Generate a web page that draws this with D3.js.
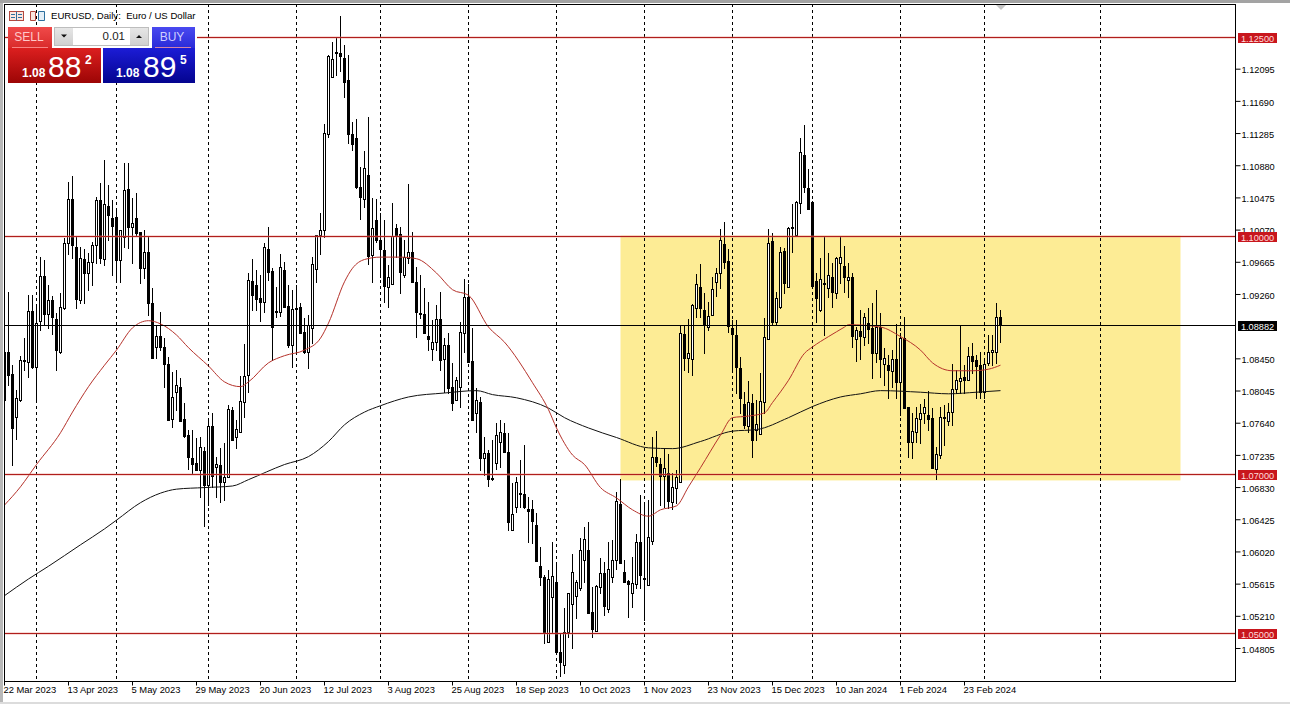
<!DOCTYPE html>
<html>
<head>
<meta charset="utf-8">
<title>EURUSD, Daily</title>
<script src="https://cdn.jsdelivr.net/npm/d3@7"></script>
<style>
  html, body { margin: 0; padding: 0; background: #fff; overflow: hidden; }
  svg { display: block; }
  text { font-family: "Liberation Sans", Arial, sans-serif; }
</style>
</head>
<body>
<div id="chart"></div>
<script>
// EURUSD daily candles, prices in 1/10000 (10919 = 1.0919), one entry per bar
const opens = [
  10854,10854,10826,10772,10793,10844,10841,10905,10835,10893,10949,10901,10919,10895,10854,10909,10991,11046,10986,10919,10971,10953,10967,10988,11045,
  10971,11037,11022,11024,10970,10998,11059,11011,11022,11005,10959,10979,10915,10860,10874,10860,10839,10769,10803,10810,10769,10749,10720,10714,10705,
  10729,10686,10761,10709,10711,10690,10696,10781,10747,10753,10791,10825,10943,10938,10922,10917,10983,10956,10905,10904,10957,10912,10862,10909,10910,
  10879,10854,10884,10958,11001,11007,11128,11200,11231,11230,11224,11196,11128,11123,11061,11046,11076,10976,11020,10995,10982,10935,10939,11010,11002,
  10951,10972,10979,10942,10903,10902,10874,10857,10866,10895,10845,10862,10810,10793,10810,10878,10923,10842,10777,10791,10720,10727,10695,10714,10740,
  10752,10728,10630,10659,10676,10675,10656,10656,10636,10584,10571,10489,10545,10564,10476,10460,10501,10537,10547,10557,10592,10605,10526,10503,10558,
  10576,10530,10571,10592,10662,10577,10566,10550,10562,10615,10569,10561,10616,10722,10713,10698,10701,10665,10683,10690,10876,10846,10845,10909,10935,
  10907,10885,10900,10942,10953,10990,10968,10884,10875,10833,10788,10761,10789,10755,10750,10791,10870,10993,10891,10910,10981,10935,11010,11001,11041,
  11102,11060,11042,10943,10907,10941,10934,10948,10928,10966,10962,10944,10948,10870,10880,10873,10890,10884,10852,10885,10839,10837,10830,10845,10816,
  10871,10784,10740,10753,10769,10777,10774,10771,10706,10724,10772,10767,10778,10807,10817,10822,10818,10849,10844,10837,10803,10840,10854,10854,10898
];
const highs = [
  10863,10929,10837,10806,10849,10871,10925,10925,10910,10973,10970,10938,10924,10903,10928,10997,11068,11075,10998,10986,10983,10978,10992,11049,11066,
  11095,11064,11045,11035,11007,11092,11092,11047,11054,11005,11007,10998,10934,10888,10904,10871,10847,10828,10831,10821,10789,10755,10755,10745,10747,
  10734,10771,10777,10722,10733,10739,10787,10785,10768,10823,10864,10953,10971,10957,10951,10991,11011,10959,10935,10977,10967,10938,10932,10938,10915,
  10897,10900,10973,11001,11029,11141,11227,11244,11250,11277,11240,11227,11143,11147,11086,11107,11149,11047,11046,11029,11020,10963,11041,11015,11011,
  10995,11065,11005,10961,10951,10934,10917,10894,10913,10929,10871,10878,10840,10822,10891,10946,10939,10884,10808,10797,10747,10730,10743,10764,10768,
  10764,10752,10689,10696,10718,10737,10671,10667,10651,10608,10573,10579,10615,10589,10500,10531,10550,10600,10567,10620,10634,10640,10558,10561,10594,
  10589,10615,10617,10678,10694,10592,10567,10596,10625,10674,10664,10667,10747,10754,10720,10733,10725,10701,10705,10888,10888,10895,10914,10952,10964,
  10928,10917,10948,10959,11008,11017,10983,10894,10894,10847,10803,10817,10801,10793,10827,10896,11008,11003,10929,10986,10985,11011,11040,11044,11123,
  11139,11084,11044,10953,10972,10998,10978,10966,10973,10998,10987,10966,10953,10885,10907,10903,10909,10915,10932,10903,10859,10850,10856,10889,10878,
  10898,10785,10777,10785,10788,10795,10805,10783,10734,10785,10787,10789,10839,10831,10888,10837,10860,10865,10850,10854,10844,10875,10875,10915,10907
];
const lows = [
  10766,10812,10712,10744,10792,10831,10822,10834,10793,10881,10888,10884,10876,10831,10852,10908,10977,10972,10909,10915,10915,10932,10938,10966,10966,
  10963,10995,10951,10942,10942,10986,10985,10966,11001,10941,10947,10900,10846,10846,10856,10810,10768,10759,10781,10767,10747,10706,10701,10705,10671,
  10635,10661,10684,10671,10665,10667,10696,10743,10733,10753,10772,10803,10907,10907,10892,10904,10944,10844,10898,10899,10910,10860,10835,10852,10878,
  10852,10834,10865,10942,10977,10998,11124,11200,11202,11207,11175,11117,11108,11060,11021,11036,10964,10942,10992,10948,10917,10910,10939,10973,10928,
  10948,10966,10942,10873,10897,10878,10856,10844,10856,10831,10803,10802,10781,10793,10785,10854,10841,10768,10753,10705,10699,10685,10693,10706,10709,
  10728,10630,10630,10652,10659,10657,10615,10613,10591,10561,10488,10489,10500,10475,10446,10450,10495,10481,10519,10554,10564,10525,10495,10503,10550,
  10523,10527,10564,10581,10588,10564,10520,10533,10557,10557,10516,10561,10612,10710,10661,10659,10657,10656,10664,10690,10831,10828,10825,10898,10898,
  10852,10881,10900,10924,10934,10959,10879,10828,10802,10777,10758,10753,10722,10743,10750,10777,10870,10889,10889,10909,10928,10935,10980,11001,11029,
  11055,11034,10937,10891,10905,10875,10923,10910,10922,10941,10929,10923,10860,10842,10845,10862,10865,10821,10841,10822,10812,10796,10810,10796,10774,
  10783,10722,10720,10740,10739,10764,10755,10708,10694,10720,10737,10762,10762,10802,10802,10802,10818,10827,10796,10796,10796,10837,10837,10840,10866
];
const closes = [
  10793,10825,10758,10796,10844,10842,10905,10835,10890,10949,10901,10919,10898,10856,10910,10991,11046,10988,10920,10972,10953,10967,10988,11045,10972,
  11040,11026,11012,10970,11007,11058,11011,11016,11003,10959,10979,10915,10846,10874,10860,10839,10768,10797,10812,10767,10748,10722,10713,10705,10734,
  10686,10761,10698,10713,10690,10696,10782,10743,10757,10792,10823,10944,10925,10920,10917,10986,10954,10885,10904,10961,10910,10862,10908,10908,10878,
  10854,10888,10964,11001,11007,11129,11226,11222,11230,11226,11193,11128,11115,11061,11049,11085,10974,11010,10995,10983,10937,10948,11000,11001,10954,
  10973,10979,10942,10904,10902,10878,10870,10866,10895,10844,10862,10808,10789,10818,10879,10923,10841,10768,10793,10720,10727,10694,10694,10749,10753,
  10728,10640,10650,10690,10675,10659,10654,10641,10591,10571,10500,10568,10572,10476,10464,10501,10550,10577,10564,10605,10618,10525,10505,10559,10576,
  10534,10581,10592,10666,10588,10564,10562,10563,10615,10573,10568,10621,10722,10715,10698,10708,10666,10684,10696,10878,10846,10852,10913,10939,10909,
  10888,10899,10933,10953,10995,10967,10886,10876,10835,10796,10762,10791,10743,10763,10792,10873,10991,10891,10922,10979,10941,11010,11011,11042,11105,
  11061,11034,10937,10922,10946,10939,10951,10929,10972,10973,10948,10948,10874,10881,10874,10898,10883,10852,10885,10845,10846,10831,10845,10816,10871,
  10783,10740,10754,10771,10777,10784,10769,10708,10725,10772,10771,10778,10807,10818,10821,10818,10849,10842,10836,10803,10839,10854,10856,10898,10888
];

// Moving averages at these bars
const redMaBars = [0,4,8,14,17,21,25,28,32,36,39,43,46,51,55,59,61,66,70,75,79,81,85,87,90,94,99,103,108,112,116,121,125,132,136,138,142,145,149,153,157,161,164,168,171,174,179,182,186,190,192,196,200,202,206,210,211,219,224,229,232,237,242,246,249];
const redMa = [10661,10684,10712,10752,10778,10810,10837,10856,10884,10893,10889,10875,10859,10836,10816,10810,10816,10840,10849,10856,10871,10890,10942,10959,10970,10973,10973,10971,10953,10932,10925,10885,10866,10815,10781,10758,10724,10712,10683,10670,10655,10647,10655,10660,10684,10708,10749,10771,10773,10777,10790,10818,10852,10860,10873,10885,10888,10885,10873,10856,10840,10830,10830,10832,10837];
const blackMaBars = [0,6,11,19,25,28,34,39,43,50,57,61,70,76,81,85,90,94,101,110,118,122,128,136,140,146,153,161,167,174,182,188,196,202,209,214,219,229,236,243,249];
const blackMa = [10547,10568,10584,10611,10631,10642,10664,10676,10681,10683,10685,10693,10712,10722,10741,10762,10778,10786,10797,10802,10805,10800,10796,10783,10771,10758,10746,10733,10732,10741,10754,10756,10771,10785,10797,10801,10805,10803,10801,10803,10805];

// Horizontal levels and the current bid
const levels = [11250, 11000, 10700, 10500];
const levelLabels = ["1.12500", "1.10000", "1.07000", "1.05000"];
const bid = 10888.2;
const bidLabel = "1.08882";

// Yellow range box
const boxBars = [154, 294];
const boxPrices = [11000, 10692];

// Tick labels
const priceTicks = [11209.5,11169,11128.5,11088,11047.5,11007,10966.5,10926,10845,10804.5,10764,10723.5,10683,10642.5,10602,10561.5,10521,10480.5];
const dateTickBars = [0,16,32,48,64,80,96,112,128,144,160,176,192,208,224,240];
const dateLabels = ["22 Mar 2023","13 Apr 2023","5 May 2023","29 May 2023","20 Jun 2023","12 Jul 2023","3 Aug 2023","25 Aug 2023","18 Sep 2023","10 Oct 2023","1 Nov 2023","23 Nov 2023","15 Dec 2023","10 Jan 2024","1 Feb 2024","23 Feb 2024"];

// Period separators, as bar numbers
const separatorBars = [8,28,51,73,94,116,138,160,182,202,224,245,274];

const width = 1290, height = 704;
const plot = { left: 4, right: 1235, top: 4, bottom: 681 };

const svg = d3.select("#chart").append("svg")
    .attr("width", width)
    .attr("height", height);

const x = d3.scaleLinear().domain([0, 1]).range([4.5, 8.5]);
const y = d3.scaleLinear().domain([10500, 11250]).range([633, 37]);
const crisp = v => Math.round(v) + 0.5;

// Window frame
svg.append("rect").attr("width", width).attr("height", 3).attr("fill", "#a3a3a3");
svg.append("rect").attr("y", 3).attr("width", 3).attr("height", height - 3).attr("fill", "#b8b8b8");
svg.append("rect").attr("y", height - 2).attr("width", width).attr("height", 2).attr("fill", "#dcdcdc");

svg.append("defs").append("clipPath")
    .attr("id", "clip")
    .append("rect")
    .attr("x", plot.left)
    .attr("y", plot.top)
    .attr("width", plot.right - plot.left)
    .attr("height", plot.bottom - plot.top);

const chart = svg.append("g").attr("clip-path", "url(#clip)");

// Range box goes under everything else
chart.append("rect")
    .attr("x", x(boxBars[0]))
    .attr("y", y(boxPrices[0]))
    .attr("width", x(boxBars[1]) - x(boxBars[0]))
    .attr("height", y(boxPrices[1]) - y(boxPrices[0]))
    .attr("fill", "#fdec95");

// Dashed period separators
chart.selectAll(".separator")
    .data(separatorBars)
    .enter()
    .append("line")
    .attr("class", "separator")
    .attr("x1", d => x(d))
    .attr("x2", d => x(d))
    .attr("y1", plot.top)
    .attr("y2", plot.bottom)
    .attr("stroke", "#000")
    .attr("stroke-dasharray", "3,3");

// Candles
const candles = chart.append("g").attr("shape-rendering", "crispEdges");
candles.selectAll(".wick")
    .data(highs)
    .enter()
    .append("rect")
    .attr("class", "wick")
    .attr("x", (d, i) => x(i) - 0.5)
    .attr("y", (d, i) => Math.round(y(highs[i])))
    .attr("width", 1)
    .attr("height", (d, i) => Math.round(y(lows[i])) - Math.round(y(highs[i])) + 1)
    .attr("fill", "#000");
candles.selectAll(".body")
    .data(opens)
    .enter()
    .append("rect")
    .attr("class", "body")
    .attr("x", (d, i) => x(i) - 1)
    .attr("y", (d, i) => crisp(y(Math.max(opens[i], closes[i]))))
    .attr("width", 2)
    .attr("height", (d, i) => Math.abs(Math.round(y(opens[i])) - Math.round(y(closes[i]))))
    .attr("fill", (d, i) => closes[i] >= opens[i] ? "#fff" : "#000")
    .attr("stroke", "#000");

// Moving averages
const maLine = bars => d3.line()
    .x((d, i) => x(bars[i]))
    .y(d => y(d))
    .curve(d3.curveMonotoneX);
chart.append("path")
    .attr("d", maLine(blackMaBars)(blackMa))
    .attr("fill", "none")
    .attr("stroke", "#111");
chart.append("path")
    .attr("d", maLine(redMaBars)(redMa))
    .attr("fill", "none")
    .attr("stroke", "#b5322b");

// Level lines with the soft edge they have in the screenshot, then the bid line
chart.selectAll(".levelGlow")
    .data(levels)
    .enter()
    .append("line")
    .attr("class", "levelGlow")
    .attr("x1", plot.left)
    .attr("x2", plot.right)
    .attr("y1", d => crisp(y(d)))
    .attr("y2", d => crisp(y(d)))
    .attr("stroke", "#e58a80")
    .attr("stroke-width", 3)
    .attr("opacity", 0.3);
chart.selectAll(".level")
    .data(levels)
    .enter()
    .append("line")
    .attr("class", "level")
    .attr("x1", plot.left)
    .attr("x2", plot.right)
    .attr("y1", d => crisp(y(d)))
    .attr("y2", d => crisp(y(d)))
    .attr("stroke", "#b01e1c");
chart.append("line")
    .attr("x1", plot.left)
    .attr("x2", plot.right)
    .attr("y1", crisp(y(bid)))
    .attr("y2", crisp(y(bid)))
    .attr("stroke", "#000");

// Plot frame
svg.append("rect")
    .attr("x", plot.left + 0.5)
    .attr("y", plot.top + 0.5)
    .attr("width", plot.right - plot.left)
    .attr("height", plot.bottom - plot.top)
    .attr("fill", "none")
    .attr("stroke", "#000");

// Little shift marker at the top of the chart
svg.append("path")
    .attr("d", "M996,5L1006,5L1001,10Z")
    .attr("fill", "#c4c4c4");

// Price axis
const priceAxis = svg.append("g")
    .attr("transform", `translate(${plot.right + 0.5},0)`)
    .call(d3.axisRight(y).tickValues(priceTicks).tickSize(5).tickPadding(1).offset(0)
        .tickFormat(d => (d / 10000).toFixed(5)));
priceAxis.select(".domain").remove();
priceAxis.selectAll("text")
    .attr("font-size", 9.2)
    .attr("font-family", null)
    .attr("fill", "#000")
    .attr("dy", "0.45em");

// Level and bid tags on the price axis
const drawTag = (value, label, color, textColor) => {
    const yy = crisp(y(value));
    svg.append("rect")
        .attr("x", 1238)
        .attr("y", yy - 4.5)
        .attr("width", 39)
        .attr("height", 10)
        .attr("fill", color);
    svg.append("text")
        .attr("x", 1257.5)
        .attr("y", yy + 4)
        .attr("text-anchor", "middle")
        .attr("font-size", 9.2)
        .attr("fill", textColor)
        .text(label);
};
levels.forEach((d, i) => drawTag(d, levelLabels[i], "#c8161d", "#ffdcdc"));
drawTag(bid, bidLabel, "#000", "#fff");

// Date axis
const dateAxis = svg.append("g")
    .attr("transform", `translate(0,${plot.bottom + 0.5})`)
    .call(d3.axisBottom(x).tickValues(dateTickBars).tickSize(4).tickPadding(1).offset(0)
        .tickFormat((d, i) => dateLabels[i]));
dateAxis.select(".domain").remove();
dateAxis.selectAll("text")
    .attr("text-anchor", "start")
    .attr("dx", -1)
    .attr("font-size", 9.4)
    .attr("font-family", null)
    .attr("fill", "#000");

// Symbol caption with its two toolbar icons
const header = svg.append("g");
header.append("rect").attr("x", 9.5).attr("y", 11.5).attr("width", 14).attr("height", 9)
    .attr("fill", "#fbe6e0").attr("stroke", "#b3493f");
header.append("path").attr("d", "M16.5,11.5V20.5M11,14.5H15M18,14.5H22M11,17.5H15M18,17.5H22")
    .attr("stroke", "#2c6f9e").attr("fill", "none");
header.append("path").attr("d", "M30.5,11.5H35.5V20.5H30.5Z")
    .attr("fill", "#fbe6e0").attr("stroke", "#b3493f");
header.append("path").attr("d", "M38.5,11.5H44.5V20.5H38.5Z")
    .attr("fill", "#e3eef6").attr("stroke", "#2c6f9e");
header.append("text")
    .attr("x", 51)
    .attr("y", 19)
    .attr("font-size", 9.6)
    .attr("fill", "#000")
    .attr("xml:space", "preserve")
    .text("EURUSD, Daily:  Euro / US Dollar");

// One-click trading panel
const defs = svg.select("defs");
const addGradient = (id, top, bottom) => {
    const g = defs.append("linearGradient")
        .attr("id", id)
        .attr("x1", 0).attr("y1", 0).attr("x2", 0).attr("y2", 1);
    g.append("stop").attr("offset", "0%").attr("stop-color", top);
    g.append("stop").attr("offset", "100%").attr("stop-color", bottom);
};
addGradient("sellBtn", "#f04a4a", "#d92b2b");
addGradient("sellBox", "#dc1f1f", "#9c0505");
addGradient("buyBtn", "#4a4af0", "#2a2ad8");
addGradient("buyBox", "#1c1cd6", "#04048f");
addGradient("lotBtn", "#e6e6e6", "#d0d0d0");

const panel = svg.append("g");
// White gap around the panel hides the 1.125 line up to x=197
panel.append("rect").attr("x", 195).attr("y", 27).attr("width", 2).attr("height", 21).attr("fill", "#fff");
panel.append("rect").attr("x", 8).attr("y", 27).attr("width", 44).attr("height", 21).attr("fill", "url(#sellBtn)");
panel.append("rect").attr("x", 152).attr("y", 27).attr("width", 43).attr("height", 21).attr("fill", "url(#buyBtn)");
panel.append("rect").attr("x", 8).attr("y", 48).attr("width", 93).attr("height", 35).attr("fill", "url(#sellBox)");
panel.append("rect").attr("x", 103).attr("y", 48).attr("width", 92).attr("height", 35).attr("fill", "url(#buyBox)");
panel.append("path").attr("d", "M12,47.5H48M155,47.5H191").attr("stroke", "#ff9a9a").attr("stroke-width", 0.8);

// Lot size control
panel.append("rect").attr("x", 52).attr("y", 25).attr("width", 100).attr("height", 23).attr("fill", "#fff");
panel.append("rect").attr("x", 54.5).attr("y", 27.5).attr("width", 94).attr("height", 18).attr("fill", "#fff").attr("stroke", "#bdbdbd");
panel.append("rect").attr("x", 55).attr("y", 28).attr("width", 18).attr("height", 17).attr("fill", "url(#lotBtn)");
panel.append("rect").attr("x", 130).attr("y", 28).attr("width", 18).attr("height", 17).attr("fill", "url(#lotBtn)");
panel.append("path").attr("d", "M61,34.5H67L64,37.5Z M136,38L142,38L139,35Z").attr("fill", "#111");

const panelText = (xx, yy, size, color, label, weight, anchor) => panel.append("text")
    .attr("x", xx)
    .attr("y", yy)
    .attr("font-size", size)
    .attr("fill", color)
    .attr("font-weight", weight || "normal")
    .attr("text-anchor", anchor || "start")
    .text(label);
panelText(29, 41, 12, "#ffc9c9", "SELL", null, "middle");
panelText(172, 41, 12, "#cfcfff", "BUY", null, "middle");
panelText(125, 40, 11.5, "#222", "0.01", null, "end");
panelText(22, 77, 12, "#fff", "1.08", "bold");
panelText(48, 77, 30, "#fff", "88");
panelText(85, 64, 12, "#fff", "2", "bold");
panelText(116, 77, 12, "#fff", "1.08", "bold");
panelText(143, 77, 30, "#fff", "89");
panelText(180, 64, 12, "#fff", "5", "bold");
</script>
</body>
</html>
